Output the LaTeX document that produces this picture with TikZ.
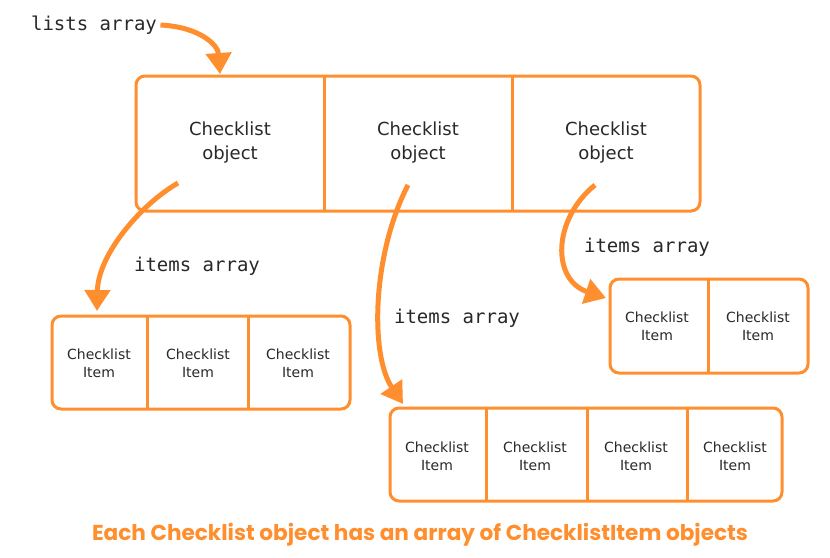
\documentclass[tikz,border=0pt]{standalone}
\usepackage{fontspec}
\setmainfont{DejaVu Sans}
\setmonofont{DejaVu Sans Mono}
\newfontfamily\capfont{Poppins}
\usetikzlibrary{arrows.meta}
\definecolor{orangeline}{RGB}{255,143,46}
\definecolor{textgray}{RGB}{40,40,40}

\begin{document}
\begin{tikzpicture}[x=1pt, y=-1pt,
  box/.style={draw=orangeline, line width=3pt, rounded corners=9pt, inner sep=0pt},
  divider/.style={draw=orangeline, line width=3pt},
  bigcell/.style={font=\fontsize{18}{24}\selectfont, text=textgray, align=center},
  smallcell/.style={font=\fontsize{14}{18}\selectfont, text=textgray, align=center},
  arrlabel/.style={font=\ttfamily\fontsize{19}{22}\selectfont, text=textgray},
  flow/.style={draw=orangeline, line width=5pt, -{Triangle[length=21pt,width=25pt]}}
]
\useasboundingbox (0,0) rectangle (830,557);

% Rotulo do array de listas
\node[arrlabel] (listslbl) at (94,25) {lists array};

% Array de objetos Checklist
\node[box, minimum width=564pt, minimum height=135pt] (lists) at (418,143.5) {};
\draw[divider] (324,76) -- (324,211);
\draw[divider] (512,76) -- (512,211);
\node[bigcell] (obj1) at (230,143) {Checklist\\object};
\node[bigcell] (obj2) at (418,143) {Checklist\\object};
\node[bigcell] (obj3) at (606,143) {Checklist\\object};

% Seta para o array de listas
\coordinate (listsin) at (220,74);
\draw[flow] (listslbl.east) .. controls (200,27) and (218,45) .. (listsin);

% Array de itens 1
\node[box, minimum width=298pt, minimum height=93pt] (items1) at (201,362.5) {};
\draw[divider] (147,316) -- (147,409);
\draw[divider] (248,316) -- (248,409);
\node[smallcell] (item11) at (99,363) {Checklist\\Item};
\node[smallcell] (item12) at (198,363) {Checklist\\Item};
\node[smallcell] (item13) at (298,363) {Checklist\\Item};

% Array de itens 2
\node[box, minimum width=392pt, minimum height=93pt] (items2) at (586,454.5) {};
\draw[divider] (486,408) -- (486,501);
\draw[divider] (587,408) -- (587,501);
\draw[divider] (687,408) -- (687,501);
\node[smallcell] (item21) at (437,456) {Checklist\\Item};
\node[smallcell] (item22) at (535,456) {Checklist\\Item};
\node[smallcell] (item23) at (636,456) {Checklist\\Item};
\node[smallcell] (item24) at (735,456) {Checklist\\Item};

% Array de itens 3
\node[box, minimum width=198pt, minimum height=94pt] (items3) at (709,326) {};
\draw[divider] (708,279) -- (708,373);
\node[smallcell] (item31) at (657,326) {Checklist\\Item};
\node[smallcell] (item32) at (758,326) {Checklist\\Item};

% Setas dos objetos para os arrays de itens
\coordinate (from1) at (178,183);
\coordinate (to1) at (97,311);
\draw[flow] (from1) .. controls (140,205) and (98,255) .. (to1);
\node[arrlabel] (lbl1) at (197,266) {items array};

\coordinate (from2) at (408,185);
\coordinate (to2) at (403,404);
\draw[flow] (from2) .. controls (372,255) and (370,355) .. (to2);
\node[arrlabel] (lbl2) at (457,318) {items array};

\coordinate (from3) at (595,185);
\coordinate (to3) at (606,298);
\draw[flow] (from3) .. controls (552,220) and (552,280) .. (to3);
\node[arrlabel] (lbl3) at (647,247) {items array};

% Legenda
\node[font=\capfont\bfseries\fontsize{21.6}{26}\selectfont, text=orangeline] (caption) at (420,535)
  {Each Checklist object has an array of ChecklistItem objects};

\end{tikzpicture}
\end{document}
